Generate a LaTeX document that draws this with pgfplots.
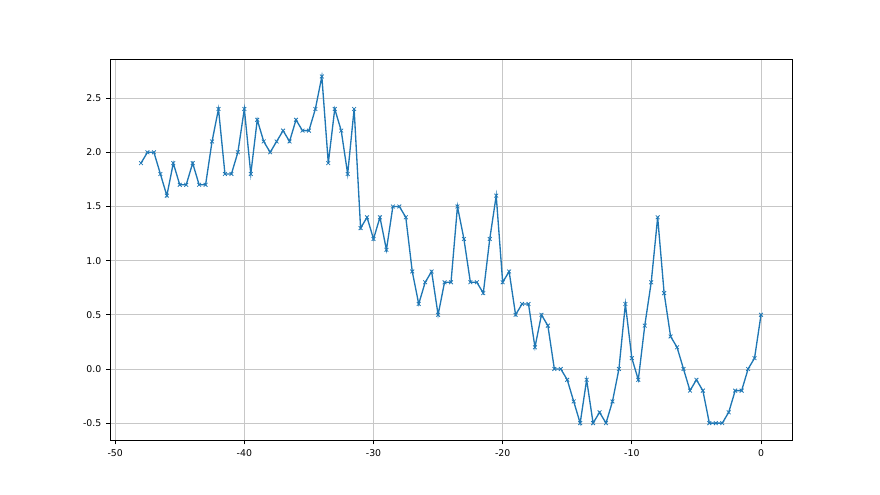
\documentclass[border=0pt]{standalone}
\usepackage{pgfplots}
\pgfplotsset{compat=1.18}
\usepackage{fontspec}
\setmainfont{DejaVu Sans}
\definecolor{mplblue}{HTML}{1F77B4}
\begin{document}
\begin{tikzpicture}[x=1pt,y=1pt]
\path (-82.5,-40.9) rectangle ++(660,371.25);
\begin{axis}[
  at={(0,0)}, anchor=south west,
  scale only axis, width=511.5pt, height=286pt,
  xmin=-50.4, xmax=2.4, ymin=-0.66, ymax=2.86,
  xtick={-50,-40,-30,-20,-10,0},
  ytick={-0.5,0,0.5,1,1.5,2,2.5},
  yticklabel style={/pgf/number format/.cd,fixed,fixed zerofill,precision=1},
  /pgf/number format/assume math mode=true,
  tick label style={font=\fontsize{7}{8}\selectfont},
  grid=major, major grid style={color=black!22, line width=0.6pt},
  tick align=outside, major tick length=3pt,
  tick style={black, line width=0.6pt},
  axis line style={black, line width=0.6pt},
  xtick pos=bottom, ytick pos=left,
  minor tick num=0,
]
\addplot[mplblue, line width=1pt, mark=x, mark size=2pt, mark options={line width=0.6pt}] coordinates {
(-48,1.9)(-47.5,2.0)(-47,2.0)(-46.5,1.8)(-46,1.6)(-45.5,1.9)(-45,1.7)(-44.5,1.7)(-44,1.9)(-43.5,1.7)
(-43,1.7)(-42.5,2.1)(-42,2.4)(-41.5,1.8)(-41,1.8)(-40.5,2.0)(-40,2.4)(-39.5,1.8)(-39,2.3)(-38.5,2.1)
(-38,2.0)(-37.5,2.1)(-37,2.2)(-36.5,2.1)(-36,2.3)(-35.5,2.2)(-35,2.2)(-34.5,2.4)(-34,2.7)(-33.5,1.9)
(-33,2.4)(-32.5,2.2)(-32,1.8)(-31.5,2.4)(-31,1.3)(-30.5,1.4)(-30,1.2)(-29.5,1.4)(-29,1.1)(-28.5,1.5)
(-28,1.5)(-27.5,1.4)(-27,0.9)(-26.5,0.6)(-26,0.8)(-25.5,0.9)(-25,0.5)(-24.5,0.8)(-24,0.8)(-23.5,1.5)
(-23,1.2)(-22.5,0.8)(-22,0.8)(-21.5,0.7)(-21,1.2)(-20.5,1.6)(-20,0.8)(-19.5,0.9)(-19,0.5)(-18.5,0.6)
(-18,0.6)(-17.5,0.2)(-17,0.5)(-16.5,0.4)(-16,0.0)(-15.5,0.0)(-15,-0.1)(-14.5,-0.3)(-14,-0.5)(-13.5,-0.1)
(-13,-0.5)(-12.5,-0.4)(-12,-0.5)(-11.5,-0.3)(-11,0.0)(-10.5,0.6)(-10,0.1)(-9.5,-0.1)(-9,0.4)(-8.5,0.8)
(-8,1.4)(-7.5,0.7)(-7,0.3)(-6.5,0.2)(-6,0.0)(-5.5,-0.2)(-5,-0.1)(-4.5,-0.2)(-4,-0.5)(-3.5,-0.5)
(-3,-0.5)(-2.5,-0.4)(-2,-0.2)(-1.5,-0.2)(-1,0.0)(-0.5,0.1)(0,0.5)
};
\end{axis}
\end{tikzpicture}
\end{document}
